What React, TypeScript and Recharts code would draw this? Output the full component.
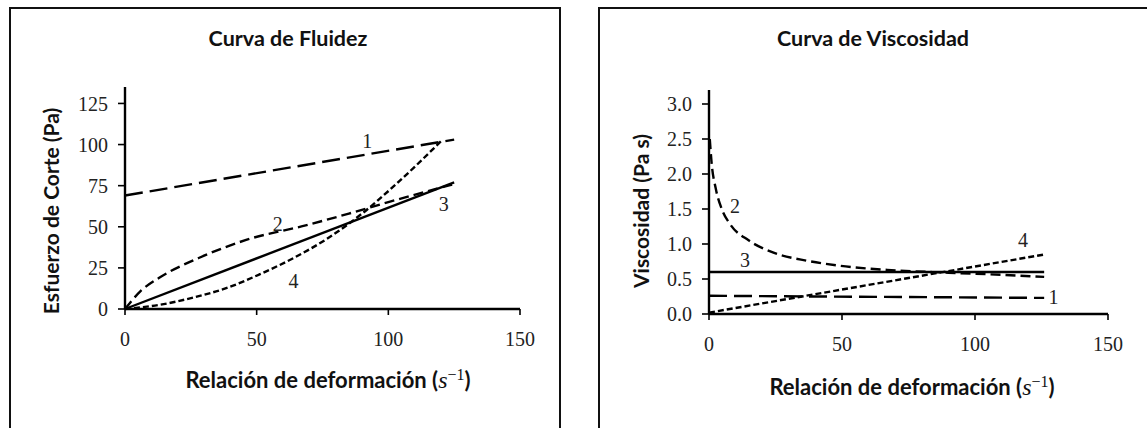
import React from 'react'
import { LineChart, Line, XAxis, YAxis, ReferenceDot } from 'recharts'

// shared x axis
const xTicks = [0, 50, 100, 150]

// Curva de Fluidez (shear stress, Pa)
const stressTicks = [0, 25, 50, 75, 100, 125]
const stress1 = [{ x: 0, y: 69 }, { x: 125, y: 103 }]
const stress2 = [
  { x: 0, y: 0 }, { x: 6, y: 11 }, { x: 13, y: 19 }, { x: 28, y: 31 }, { x: 46, y: 42 },
  { x: 69, y: 51 }, { x: 85, y: 58 }, { x: 100, y: 65 }, { x: 125, y: 76 },
]
const stress3 = [{ x: 0, y: 0 }, { x: 125, y: 77 }]
const stress4 = [
  { x: 0, y: 0 }, { x: 13, y: 2.5 }, { x: 26, y: 7 }, { x: 39, y: 13 }, { x: 51, y: 21 },
  { x: 64, y: 31 }, { x: 77, y: 43 }, { x: 90, y: 58 }, { x: 103, y: 76 }, { x: 120, y: 102 },
]
const stressLabels = [
  { x: 92, y: 102, text: '1' },
  { x: 58, y: 52, text: '2' },
  { x: 121, y: 64, text: '3' },
  { x: 64, y: 17, text: '4' },
]

// Curva de Viscosidad (Pa s)
const viscTicks = [0, 0.5, 1, 1.5, 2, 2.5, 3]
const visc1 = [{ x: 0, y: 0.26 }, { x: 126, y: 0.23 }]
const visc2 = [
  { x: 0.3, y: 2.5 }, { x: 1, y: 2.15 }, { x: 2.5, y: 1.8 }, { x: 5, y: 1.48 }, { x: 8, y: 1.28 },
  { x: 15, y: 1.05 }, { x: 24, y: 0.88 }, { x: 37, y: 0.76 }, { x: 49, y: 0.69 }, { x: 67, y: 0.63 },
  { x: 90, y: 0.59 }, { x: 110, y: 0.56 }, { x: 126, y: 0.53 },
]
const visc3 = [{ x: 0, y: 0.6 }, { x: 126, y: 0.6 }]
const visc4 = [{ x: 0, y: 0.02 }, { x: 126, y: 0.85 }]
const viscLabels = [
  { x: 129.5, y: 0.25, text: '1' },
  { x: 9.8, y: 1.54, text: '2' },
  { x: 13.5, y: 0.77, text: '3' },
  { x: 118, y: 1.06, text: '4' },
]

const serif = '"Liberation Serif", "Times New Roman", serif'
const sans = 'Lato, "Open Sans", sans-serif'
const tickStyle = { fontFamily: serif, fontSize: 20, fill: '#222' }
const axisLine = { stroke: '#000', strokeWidth: 2.4 }

const LONG = '18 7'
const MED = '10 5'
const SHORT = '6 3'

function XLabel({ left, top }: { left: number; top: number }) {
  return (
    <div style={{ position: 'absolute', left, top, transform: 'translate(-50%, -50%)', whiteSpace: 'nowrap', fontFamily: sans, fontWeight: 700, fontSize: 22, color: '#111' }}>
      Relación de deformación (
      <span style={{ fontFamily: serif, fontStyle: 'italic', fontWeight: 400, fontSize: 24 }}>s</span>
      <sup style={{ fontFamily: serif, fontWeight: 400, fontSize: 16 }}>−1</sup>)
    </div>
  )
}

function Title({ left, text }: { left: number; text: string }) {
  return (
    <div style={{ position: 'absolute', left, top: 38, transform: 'translate(-50%, -50%)', whiteSpace: 'nowrap', fontFamily: sans, fontWeight: 700, fontSize: 21.5, color: '#111' }}>
      {text}
    </div>
  )
}

function YLabel({ left, top, text }: { left: number; top: number; text: string }) {
  return (
    <div style={{ position: 'absolute', left, top, transform: 'translate(-50%, -50%) rotate(-90deg)', whiteSpace: 'nowrap', fontFamily: sans, fontWeight: 700, fontSize: 21, color: '#111' }}>
      {text}
    </div>
  )
}

export default function App() {
  return (
    <div style={{ position: 'absolute', left: 0, top: 0, width: 1147, height: 428, overflow: 'hidden', background: '#fff' }}>
      {/* panel frames */}
      <div style={{ position: 'absolute', left: 9, top: 7, width: 552, height: 460, boxSizing: 'border-box', border: '2px solid #111', borderBottom: 'none' }} />
      <div style={{ position: 'absolute', left: 598, top: 7, width: 600, height: 460, boxSizing: 'border-box', border: '2px solid #111', borderRight: 'none', borderBottom: 'none' }} />

      <Title left={288} text="Curva de Fluidez" />
      <Title left={873} text="Curva de Viscosidad" />
      <YLabel left={50} top={211} text="Esfuerzo de Corte (Pa)" />
      <YLabel left={640} top={211} text="Viscosidad (Pa s)" />
      <XLabel left={328} top={380} />
      <XLabel left={912} top={387} />

      <div style={{ position: 'absolute', left: 0, top: 0 }}>
        <LineChart width={560} height={360} margin={{ top: 87, right: 40, left: 0, bottom: 11 }}>
          <XAxis type="number" dataKey="x" domain={[0, 150]} ticks={xTicks} height={40} axisLine={axisLine}
            tickLine={{ stroke: '#000', strokeWidth: 1.6 }} tickSize={6} tickMargin={17} tick={tickStyle} />
          <YAxis type="number" dataKey="y" domain={[0, 135]} ticks={stressTicks} width={125} axisLine={axisLine}
            tickLine={{ stroke: '#000', strokeWidth: 1.6 }} tickSize={7} tickMargin={10} tick={tickStyle} />
          <Line data={stress1} dataKey="y" type="linear" stroke="#000" strokeWidth={2.4} strokeDasharray={LONG} dot={false} isAnimationActive={false} />
          <Line data={stress2} dataKey="y" type="monotone" stroke="#000" strokeWidth={2.4} strokeDasharray={MED} dot={false} isAnimationActive={false} />
          <Line data={stress3} dataKey="y" type="linear" stroke="#000" strokeWidth={2.4} dot={false} isAnimationActive={false} />
          <Line data={stress4} dataKey="y" type="monotone" stroke="#000" strokeWidth={2.4} strokeDasharray={SHORT} dot={false} isAnimationActive={false} />
          {stressLabels.map((l) => (
            <ReferenceDot key={l.text} x={l.x} y={l.y} r={0} fill="none" stroke="none"
              label={{ value: l.text, position: 'center', fontFamily: serif, fontSize: 20, fill: '#222' }} />
          ))}
        </LineChart>
      </div>

      <div style={{ position: 'absolute', left: 590, top: 0 }}>
        <LineChart width={558} height={360} margin={{ top: 90, right: 40, left: 0, bottom: 6 }}>
          <XAxis type="number" dataKey="x" domain={[0, 150]} ticks={xTicks} height={40} axisLine={axisLine}
            tickLine={{ stroke: '#000', strokeWidth: 1.6 }} tickSize={6} tickMargin={17} tick={tickStyle} />
          <YAxis type="number" dataKey="y" domain={[0, 3.2]} ticks={viscTicks} width={119} axisLine={axisLine}
            tickFormatter={(v: number) => v.toFixed(1)}
            tickLine={{ stroke: '#000', strokeWidth: 1.6 }} tickSize={7} tickMargin={10} tick={tickStyle} />
          <Line data={visc1} dataKey="y" type="linear" stroke="#000" strokeWidth={2.4} strokeDasharray={LONG} dot={false} isAnimationActive={false} />
          <Line data={visc2} dataKey="y" type="monotone" stroke="#000" strokeWidth={2.4} strokeDasharray={MED} dot={false} isAnimationActive={false} />
          <Line data={visc3} dataKey="y" type="linear" stroke="#000" strokeWidth={2.4} dot={false} isAnimationActive={false} />
          <Line data={visc4} dataKey="y" type="linear" stroke="#000" strokeWidth={2.4} strokeDasharray={SHORT} dot={false} isAnimationActive={false} />
          {viscLabels.map((l) => (
            <ReferenceDot key={l.text} x={l.x} y={l.y} r={0} fill="none" stroke="none"
              label={{ value: l.text, position: 'center', fontFamily: serif, fontSize: 20, fill: '#222' }} />
          ))}
        </LineChart>
      </div>
    </div>
  )
}
